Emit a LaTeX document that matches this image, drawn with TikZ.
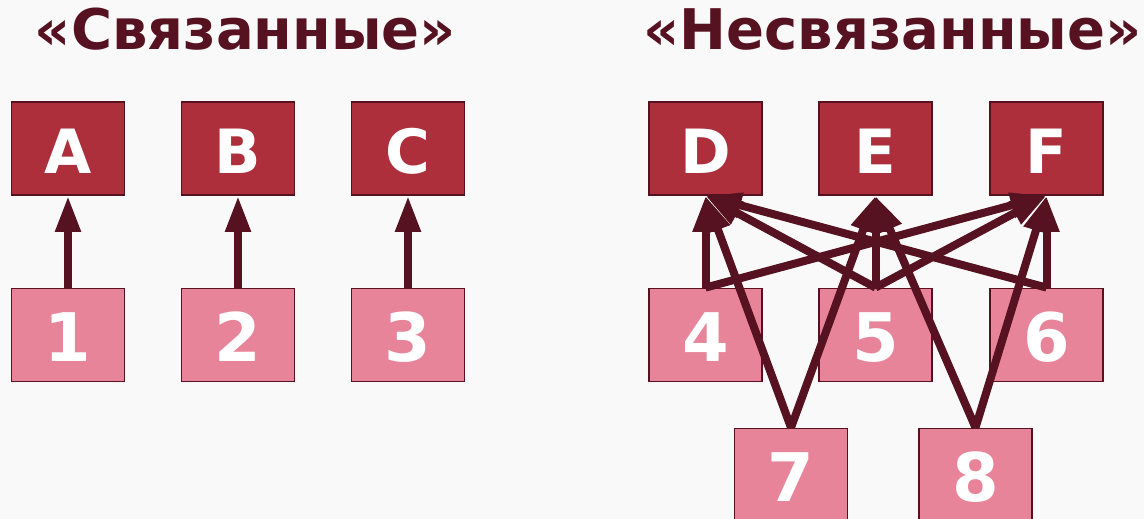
\documentclass[tikz,border=0pt]{standalone}
\usepackage{fontspec}
\setmainfont{DejaVu Sans}
\usetikzlibrary{arrows.meta}
\definecolor{bg}{HTML}{F9F9F9}
\definecolor{topfill}{HTML}{AE2F3C}
\definecolor{botfill}{HTML}{E8849A}
\definecolor{ink}{HTML}{561221}
\begin{document}
\begin{tikzpicture}[x=1pt,y=-1pt,
  box/.style={draw=ink, line width=1.8pt, minimum width=113pt, minimum height=93pt,
    inner sep=0pt, text=white, text depth=0pt},
  topbox/.style={box, fill=topfill, text height=50.5pt, font=\bfseries\fontsize{61}{61}\selectfont},
  botbox/.style={box, fill=botfill, text height=53.8pt, font=\bfseries\fontsize{67}{67}\selectfont},
  link/.style={draw=ink, line width=8pt, -{Triangle[length=36pt,width=24pt]}},
  heading/.style={text=ink, anchor=base, inner sep=0pt, font=\bfseries\fontsize{56}{56}\selectfont}
]
\useasboundingbox (0,0) rectangle (1144,519);
\clip (0,0) rectangle (1144,519);
\fill[bg] (0,0) rectangle (1144,519);

% headings
\node[heading] (tl) at (245.5,50) {«Связанные»};
\node[heading] (tr) at (892.5,50) {«Несвязанные»};

% left group
\node[topbox] (nA) at (68,148.5) {A};
\node[topbox] (nB) at (238,148.5) {B};
\node[topbox] (nC) at (408,148.5) {C};
\node[botbox] (n1) at (68,335) {1};
\node[botbox] (n2) at (238,335) {2};
\node[botbox] (n3) at (408,335) {3};

% right group
\node[topbox] (nD) at (705.5,148.5) {D};
\node[topbox] (nE) at (875.5,148.5) {E};
\node[topbox] (nF) at (1046.5,148.5) {F};
\node[botbox] (n4) at (705.5,335) {4};
\node[botbox] (n5) at (875.5,335) {5};
\node[botbox] (n6) at (1046.5,335) {6};
\node[botbox] (n7) at (791,475) {7};
\node[botbox] (n8) at (975.5,475) {8};

% one-to-one links
\draw[link] (n1.north) -- (nA.south);
\draw[link] (n2.north) -- (nB.south);
\draw[link] (n3.north) -- (nC.south);

% many-to-many links
\draw[link] (n4.north) -- (nD.south);
\draw[link] (n4.north) -- (nF.south);
\draw[link] (n5.north) -- (nD.south);
\draw[link] (n5.north) -- (nE.south);
\draw[link] (n5.north) -- (nF.south);
\draw[link] (n6.north) -- (nD.south);
\draw[link] (n6.north) -- (nF.south);
\draw[link] (n7.north) -- (nD.south);
\draw[link] (n7.north) -- (nE.south);
\draw[link] (n8.north) -- (nE.south);
\draw[link] (n8.north) -- (nF.south);
\end{tikzpicture}
\end{document}
